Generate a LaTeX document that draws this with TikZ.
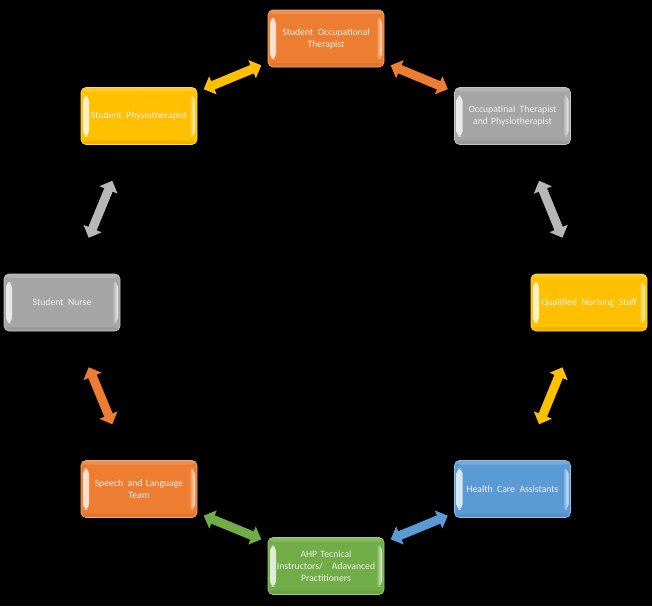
\documentclass[tikz,border=0pt]{standalone}
\usepackage{fontspec}
\setmainfont{Carlito}
\usetikzlibrary{arrows.meta}
\definecolor{cOr}{HTML}{ED7D31}
\definecolor{cGr}{HTML}{A5A5A5}
\definecolor{cGo}{HTML}{FFC000}
\definecolor{cBl}{HTML}{5B9BD5}
\definecolor{cGn}{HTML}{70AD47}
\newcommand{\ws}{\hspace{4.5pt}}
\tikzset{
  box/.style={rounded corners=5pt, minimum width=116pt, minimum height=57pt,
    text width=113pt, align=center, inner sep=0pt,
    font=\fontsize{9.7}{12}\selectfont, text=white!94!black,
    fill=#1, draw=#1!65!white, line width=0.7pt,
    path picture={
      \shade[left color=white, right color=#1, opacity=0.8]
        ([xshift=2pt,yshift=-8pt]path picture bounding box.north west)
        rectangle ([xshift=8pt,yshift=8pt]path picture bounding box.south west);
      \shade[right color=white, left color=#1, opacity=0.8]
        ([xshift=-8pt,yshift=-8pt]path picture bounding box.north east)
        rectangle ([xshift=-2pt,yshift=8pt]path picture bounding box.south east);
      \fill[#1!80!black, opacity=0.3]
        ([yshift=4pt]path picture bounding box.south west)
        rectangle (path picture bounding box.south east);
      \fill[white, opacity=0.15]
        (path picture bounding box.north west)
        rectangle ([yshift=-4pt]path picture bounding box.north east);
    }},
  link/.style={line width=9pt, draw=#1,
    {Triangle[width=19pt,length=10pt]}-{Triangle[width=19pt,length=10pt]},
    shorten <=70pt, shorten >=70pt}
}
\begin{document}
\begin{tikzpicture}[x=1pt,y=-1pt]
\fill[black] (0,0) rectangle (652,606);
\useasboundingbox (0,0) rectangle (652,606);

\node[box=cOr] (sot) at (326,38.5) {Student\ws Occupational\\Therapist};
\node[box=cGr] (ot)  at (512.5,116) {Occupatinal\ws Therapist\\and Physiotherapist};
\node[box=cGo] (qns) at (589,302.5) {Qualified\ws Nurising\ws Staff};
\node[box=cBl] (hca) at (512.5,489) {Health\ws Care\ws Assistants};
\node[box=cGn] (ahp) at (326,566) {AHP Tecnical\\Instructors/\ws\ws Adavanced\\Practitioners};
\node[box=cOr] (slt) at (139,489) {Speech\ws and Language\\Team};
\node[box=cGr] (sn)  at (62,302.5) {Student\ws Nurse};
\node[box=cGo] (sp)  at (139,116) {Student\ws Physiotherapist};

\draw[link=cGo] (sp.center) -- (sot.center);
\draw[link=cOr] (sot.center) -- (ot.center);
\draw[link=cGr!80!white] (ot.center) -- (qns.center);
\draw[link=cGo] (qns.center) -- (hca.center);
\draw[link=cBl] (hca.center) -- (ahp.center);
\draw[link=cGn] (ahp.center) -- (slt.center);
\draw[link=cOr] (slt.center) -- (sn.center);
\draw[link=cGr!80!white] (sn.center) -- (sp.center);
\end{tikzpicture}
\end{document}
